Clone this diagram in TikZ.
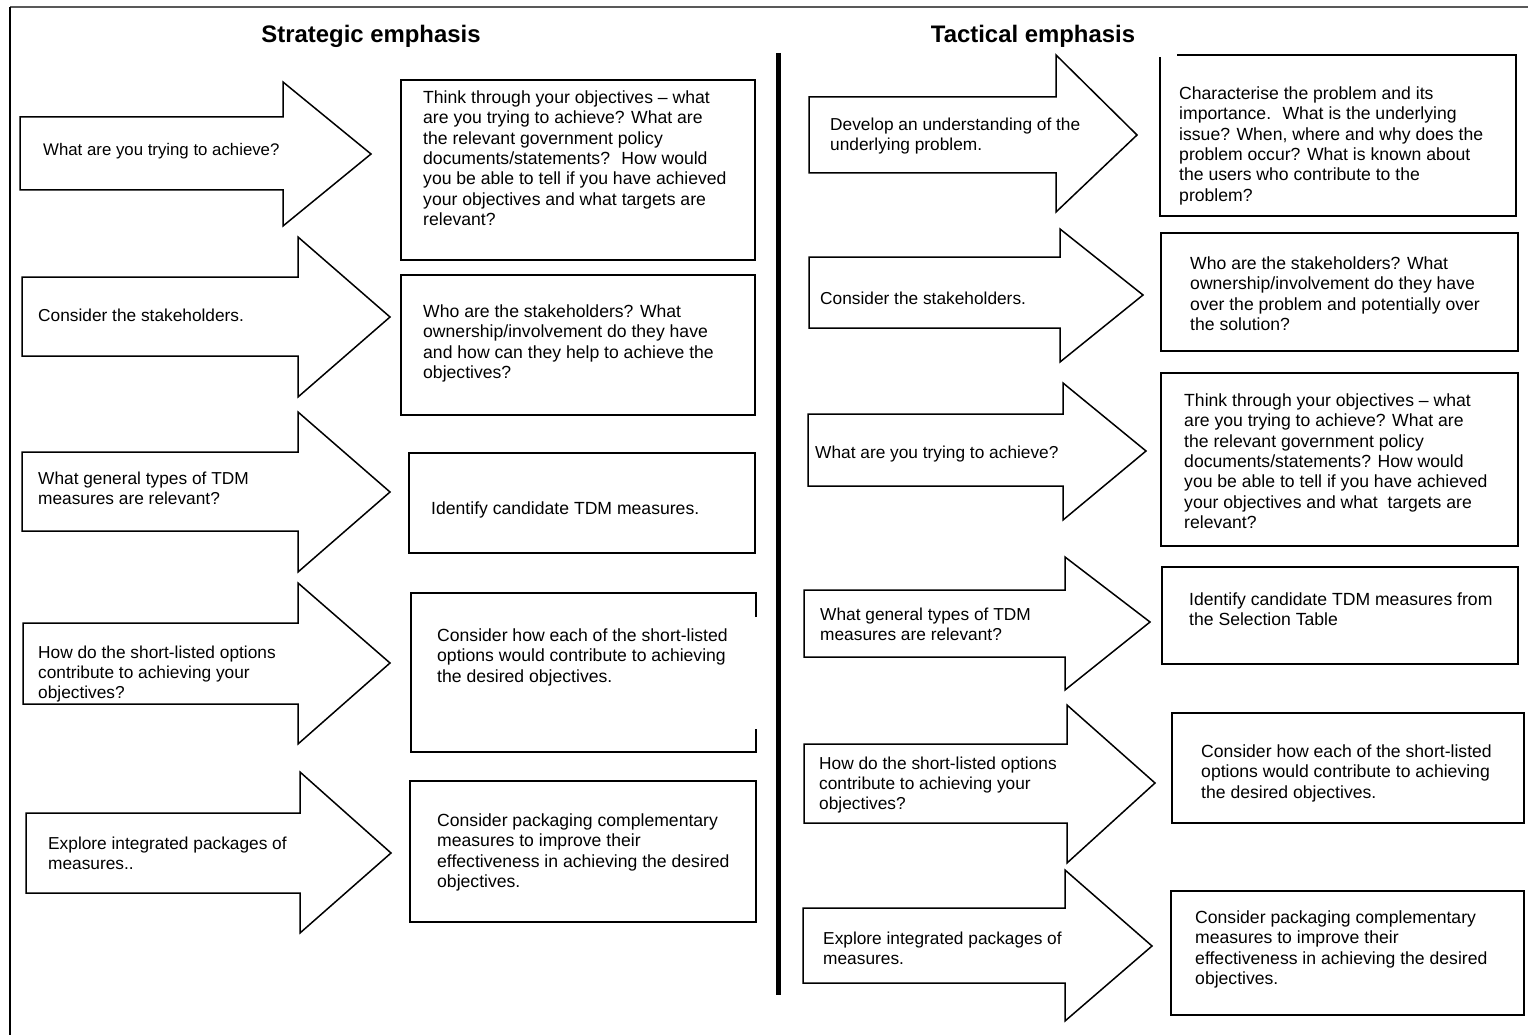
\documentclass[tikz,border=0pt]{standalone}
\usepackage{fontspec}
\setmainfont{Liberation Sans}
\newcommand{\barrow}[8]{%
  \draw[arrowline] (#1,#2) -- (#4,#2) -- (#4,#5) -- (#7,#8) -- (#4,#6) -- (#4,#3) -- (#1,#3) -- cycle;}
\newcommand{\topstrut}{\rule{0pt}{13pt}}
\begin{document}
\begin{tikzpicture}[x=1pt,y=-1pt,
  arrowline/.style={draw=black,line width=1.5pt,line join=miter},
  boxline/.style={draw=black,line width=2pt},
  txt/.style={font=\fontsize{17.6}{20.4}\selectfont,align=left,inner sep=0pt,anchor=north west,yshift=13pt},
  atxt/.style={txt,font=\fontsize{17.3}{20}\selectfont},
  ttl/.style={font=\fontsize{23.9}{28}\selectfont\bfseries,inner sep=0pt,anchor=base}]
\useasboundingbox (0,0) rectangle (1528,1035);
\fill[white] (0,0) rectangle (1528,1035);
% outer frame (top and left only)
\draw[line width=1.5pt,color=black!65] (10,7) -- (1528,7);
\draw[line width=1.5pt,color=black] (10,7) -- (10,1035);
% divider
\draw[line width=5pt] (778.5,53) -- (778.5,995);
% titles
\node[ttl] (tstrat) at (371,43) {Strategic emphasis};
\node[ttl] (ttact) at (1033,43) {Tactical emphasis};

% ---------- Strategic arrows ----------
\barrow{20}{117}{190}{283}{82}{226}{371}{154}
\barrow{22}{277}{356}{298}{237}{397}{390}{317}
\barrow{22}{452}{531}{298}{412}{572}{390}{492}
\barrow{23}{623}{704}{298}{583}{744}{390}{663}
\barrow{26}{813}{893}{300}{772}{933}{391}{853}
% ---------- Strategic boxes ----------
\draw[boxline] (401,80) rectangle (755,260);
\draw[boxline] (401,275) rectangle (755,415);
\draw[boxline] (409,453) rectangle (755,553);
\draw[boxline] (756,617) -- (756,593) -- (411,593) -- (411,752) -- (756,752) -- (756,729);
\draw[boxline] (410,781) rectangle (756,922);

% ---------- Strategic texts ----------
\node[atxt,font=\fontsize{16.8}{20}\selectfont] (sa1) at (43,155.5) {\topstrut What are you trying to achieve?};
\node[txt] (sb1) at (423,103) {\topstrut Think through your objectives – what\\are you trying to achieve? What are\\the relevant government policy\\documents/statements?~ How would\\you be able to tell if you have achieved\\your objectives and what targets are\\relevant?};
\node[atxt] (sa2) at (38,321) {\topstrut Consider the stakeholders.};
\node[txt] (sb2) at (423,317) {\topstrut Who are the stakeholders? What\\ownership/involvement do they have\\and how can they help to achieve the\\objectives?};
\node[atxt] (sa3) at (38,484) {\topstrut What general types of TDM\\measures are relevant?};
\node[txt] (sb3) at (431,514) {\topstrut Identify candidate TDM measures.};
\node[atxt] (sa4) at (38,658) {\topstrut How do the short-listed options\\contribute to achieving your\\objectives?};
\node[txt] (sb4) at (437,641) {\topstrut Consider how each of the short-listed\\options would contribute to achieving\\the desired objectives.};
\node[atxt] (sa5) at (48,849) {\topstrut Explore integrated packages of\\measures..};
\node[txt] (sb5) at (437,826) {\topstrut Consider packaging complementary\\measures to improve their\\effectiveness in achieving the desired\\objectives.};

% ---------- Tactical arrows ----------
\barrow{809}{97}{173}{1056}{55}{212}{1137}{135}
\barrow{809}{257}{328}{1060}{229}{362}{1143}{295}
\barrow{808}{414}{486}{1063}{383}{520}{1146}{451}
\barrow{804}{590}{657}{1065}{557}{690}{1150}{622}
\barrow{804}{744}{823}{1067}{705}{863}{1155}{783}
\barrow{803}{908}{983}{1065}{870}{1021}{1152}{946}
% ---------- Tactical boxes ----------
\draw[boxline] (1177,55) -- (1516,55) -- (1516,216) -- (1160,216) -- (1160,57);
\draw[boxline] (1161,233) rectangle (1518,351);
\draw[boxline] (1161,373) rectangle (1518,546);
\draw[boxline] (1162,567) rectangle (1518,664);
\draw[boxline] (1172,713) rectangle (1524,823);
\draw[boxline] (1171,891) rectangle (1524,1015);

% ---------- Tactical texts ----------
\node[atxt] (ta1) at (830,130) {\topstrut Develop an understanding of the\\underlying problem.};
\node[txt] (tb1) at (1179,99) {\topstrut Characterise the problem and its\\importance.~ What is the underlying\\issue? When, where and why does the\\problem occur? What is known about\\the users who contribute to the\\problem?};
\node[atxt] (ta2) at (820,304) {\topstrut Consider the stakeholders.};
\node[txt] (tb2) at (1190,269) {\topstrut Who are the stakeholders? What\\ownership/involvement do they have\\over the problem and potentially over\\the solution?};
\node[atxt] (ta3) at (815,458) {\topstrut What are you trying to achieve?};
\node[txt] (tb3) at (1184,406) {\topstrut Think through your objectives – what\\are you trying to achieve? What are\\the relevant government policy\\documents/statements? How would\\you be able to tell if you have achieved\\your objectives and what~ targets are\\relevant?};
\node[atxt] (ta4) at (820,620) {\topstrut What general types of TDM\\measures are relevant?};
\node[txt] (tb4) at (1189,605) {\topstrut Identify candidate TDM measures from\\the Selection Table};
\node[atxt] (ta5) at (819,769) {\topstrut How do the short-listed options\\contribute to achieving your\\objectives?};
\node[txt] (tb5) at (1201,757) {\topstrut Consider how each of the short-listed\\options would contribute to achieving\\the desired objectives.};
\node[atxt] (ta6) at (823,944) {\topstrut Explore integrated packages of\\measures.};
\node[txt] (tb6) at (1195,923) {\topstrut Consider packaging complementary\\measures to improve their\\effectiveness in achieving the desired\\objectives.};
\end{tikzpicture}
\end{document}
